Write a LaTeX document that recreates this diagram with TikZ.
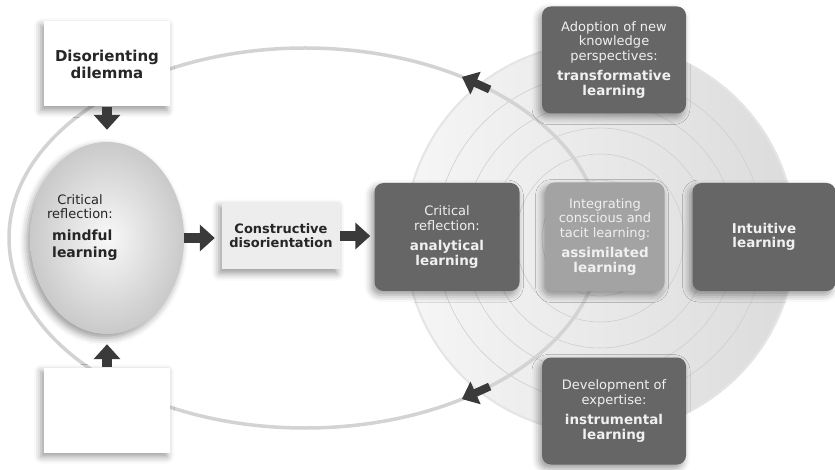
\documentclass[tikz,border=0pt]{standalone}
\usepackage{fontspec}
\setmainfont{DejaVu Sans}
\usetikzlibrary{arrows.meta,shapes.geometric,shadows.blur}

\definecolor{boxgray}{HTML}{666666}
\definecolor{palegray}{HTML}{A3A3A3}
\definecolor{arrowgray}{HTML}{3A3A3A}
\definecolor{loopgray}{HTML}{D3D3D3}
\definecolor{inkgray}{HTML}{262626}

\newcommand{\bl}[1]{{\fontsize{13.5}{14.5}\selectfont\bfseries #1}}

\begin{document}
\begin{tikzpicture}[x=1pt, y=-1pt,
	every node/.style={font=\fontsize{13}{14.5}\selectfont, align=center, inner sep=0pt},
	shad/.style={blur shadow={shadow xshift=-3pt, shadow yshift=-4pt, shadow blur radius=7pt, shadow opacity=40}},
	darkbox/.style={shad, fill=boxgray, text=white!94!black, rounded corners=9pt, minimum width=144pt, minimum height=107pt},
	palebox/.style={darkbox, fill=palegray},
	whitebox/.style={shad, fill=white, text=inkgray, minimum width=126pt, minimum height=85pt},
	blk/.style={draw=arrowgray, line width=10pt, -{Triangle[length=15pt, width=26pt]}},
	loopblk/.style={draw=arrowgray, line width=8pt, -{Triangle[length=15pt, width=24pt]}},
	loopline/.style={draw=loopgray, line width=3.5pt},
	ring/.style={draw=gray!38, line width=0.6pt}]
	\useasboundingbox (0,0) rectangle (835,470);

	% rings behind the right-hand boxes
	\shade[left color=gray!7, right color=gray!28] (600,238) circle (196);
	\draw[white!80!gray, line width=2pt] (600,238) circle (195);
	\foreach \r in {58,84,110,136,164} {\draw[ring] (600,238) circle (\r);}

	% the big loop and its two heads
	\draw[loopline] (305,238) ellipse [x radius=296, y radius=190];
	\coordinate (topA) at (489.7,89.5);
	\coordinate (topB) at (461.9,76.9);
	\coordinate (botA) at (489.7,386.5);
	\coordinate (botB) at (461.9,399.1);
	\draw[loopblk] (topA) -- (topB);
	\draw[loopblk] (botA) -- (botB);

	% left column
	\node[whitebox, font=\fontsize{15}{17}\selectfont\bfseries] (dilemma) at (107,64) {Disorienting\\dilemma};
	\node[whitebox] (blank) at (107,410) {};
	\node[shad, ellipse, shading=radial, inner color=gray!5, outer color=gray!42, minimum width=154pt, minimum height=192pt] (mind) at (107,238) {};
	\node[text=inkgray, font=\fontsize{13}{14}\selectfont] (mindtop) at (80,207) {Critical\\reflection:};
	\node[text=inkgray, anchor=west, align=left, font=\fontsize{14}{17}\selectfont\bfseries] (mindbot) at (52,245) {mindful\\learning};
	\node[shad, fill=gray!14, text=inkgray, minimum width=118pt, minimum height=67pt, font=\fontsize{13}{14}\selectfont\bfseries] (constr) at (281,236) {Constructive\\disorientation};

	% boxes on the rings
	\node[darkbox, minimum width=145pt, minimum height=108pt] (analyt) at (447,237) {Critical\\reflection:\\[6pt]\bl{analytical}\\\bl{learning}};
	\node[palebox, minimum width=119pt, minimum height=109pt] (assim) at (605,237) {Integrating\\conscious and\\tacit learning:\\[6pt]\bl{assimilated}\\\bl{learning}};
	\node[darkbox, minimum width=143pt, minimum height=108pt] (intuit) at (764,237) {\bl{Intuitive}\\\bl{learning}};
	\node[darkbox] (transf) at (614,60) {Adoption of new\\knowledge\\perspectives:\\[6pt]\bl{transformative}\\\bl{learning}};
	\node[darkbox] (instr) at (614,411) {Development of\\expertise:\\[6pt]\bl{instrumental}\\\bl{learning}};

	% block arrows
	\draw[blk, shorten >=12pt] (dilemma) -- (mind);
	\draw[blk, shorten >=10pt] (blank) -- (mind);
	\draw[blk, shorten >=7pt] (mind.east) -- (constr.west |- mind.east);
	\draw[blk, shorten >=4pt] (constr.east) -- (analyt.west |- constr.east);
\end{tikzpicture}
\end{document}
